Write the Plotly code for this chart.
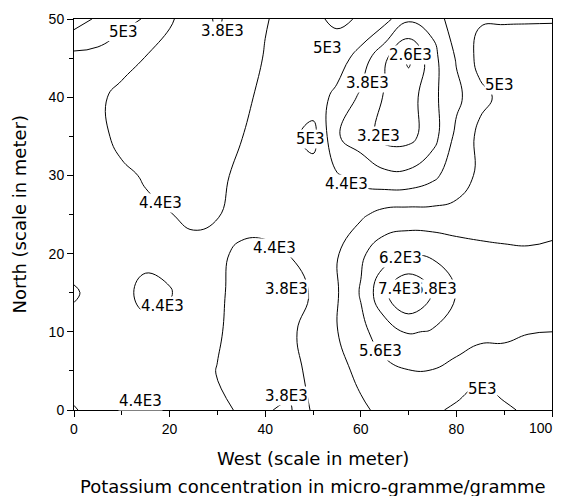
import plotly.graph_objects as go

# grid coordinates (metres)
west_m = [0, 5, 10, 15, 20, 25, 30, 35, 40, 45, 50, 55, 60, 65, 70, 75, 80, 85, 90, 95, 100]
north_m = [0, 5, 10, 15, 20, 25, 30, 35, 40, 45, 50]

# potassium concentration (x1000 micro-gramme/gramme), one row per north value
k_n00 = [4.38, 4.50, 4.45, 4.38, 4.45, 4.50, 4.50, 4.35, 3.85, 3.70, 4.50, 4.75, 4.90, 5.15, 5.25, 5.10, 4.90, 4.75, 4.90, 5.10, 5.15]
k_n05 = [4.55, 4.55, 4.50, 4.45, 4.50, 4.55, 4.38, 4.10, 3.95, 4.20, 4.55, 4.80, 5.15, 5.45, 5.58, 5.58, 5.40, 5.15, 5.35, 5.30, 5.30]
k_n10 = [4.55, 4.60, 4.60, 4.50, 4.50, 4.55, 4.47, 4.15, 4.00, 4.30, 4.60, 4.98, 5.45, 5.90, 6.25, 6.15, 5.95, 5.80, 5.70, 5.62, 5.60]
k_n15 = [4.35, 4.55, 4.50, 4.30, 4.38, 4.55, 4.50, 4.20, 4.00, 3.75, 4.55, 4.95, 5.65, 6.70, 7.45, 6.78, 6.18, 5.90, 5.75, 5.70, 5.70]
k_n20 = [4.60, 4.60, 4.55, 4.50, 4.50, 4.55, 4.50, 4.30, 4.20, 4.42, 4.60, 4.95, 5.50, 5.95, 6.10, 6.10, 5.95, 5.80, 5.70, 5.65, 5.65]
k_n25 = [4.70, 4.70, 4.60, 4.50, 4.42, 4.30, 4.38, 4.60, 4.75, 4.80, 4.85, 4.90, 4.90, 5.20, 5.25, 5.20, 5.15, 5.20, 5.30, 5.40, 5.50]
k_n30 = [4.70, 4.65, 4.50, 4.35, 4.15, 4.10, 4.25, 4.55, 4.70, 4.80, 4.75, 4.45, 4.20, 3.95, 3.95, 4.25, 4.75, 5.10, 5.30, 5.35, 5.45]
k_n35 = [4.70, 4.55, 4.25, 4.05, 3.95, 4.00, 4.15, 4.38, 4.65, 4.85, 5.20, 3.85, 3.50, 3.00, 3.00, 3.55, 4.55, 5.15, 5.30, 5.35, 5.40]
k_n40 = [4.65, 4.50, 4.25, 4.05, 3.95, 3.95, 4.00, 4.25, 4.55, 4.75, 4.70, 4.25, 3.70, 3.15, 2.90, 3.65, 4.25, 4.85, 5.15, 5.30, 5.40]
k_n45 = [4.80, 4.80, 4.60, 4.38, 4.10, 3.90, 3.85, 4.00, 4.45, 4.80, 4.90, 4.70, 4.15, 3.30, 2.50, 3.60, 4.45, 5.20, 5.30, 5.35, 5.40]
k_n50 = [5.90, 5.50, 5.20, 4.95, 4.50, 4.00, 3.75, 4.00, 4.35, 4.65, 4.90, 5.10, 4.95, 4.60, 3.90, 4.00, 4.80, 4.95, 4.95, 4.95, 4.95]

# axis ticks
x_tick_vals = [0, 20, 40, 60, 80, 100]
x_tick_text = ["0", "20", "40", "60", "80", "100"]
y_tick_vals = [0, 10, 20, 30, 40, 50]

# contour labels as printed on the map
label_text = ["5E3", "3.8E3", "5E3", "3.8E3", "2.6E3", "5E3", "5E3", "3.2E3", "4.4E3", "4.4E3",
              "4.4E3", "3.8E3", "4.4E3", "4.4E3", "3.8E3", "6.2E3", "6.8E3", "7.4E3", "5.6E3", "5E3"]
label_x = [10.3, 31.0, 53.1, 61.3, 70.3, 89.1, 49.5, 63.8, 57.1, 18.0,
           42.0, 44.4, 18.6, 14.0, 44.4, 68.2, 75.6, 68.1, 64.2, 85.4]
label_y = [48.3, 48.5, 46.3, 41.8, 45.4, 41.6, 34.6, 35.0, 28.9, 26.5,
           20.7, 15.5, 13.3, 1.2, 1.8, 19.4, 15.5, 15.5, 7.5, 2.7]

levels_start, levels_end, levels_step = 2600, 7400, 600

z = [[v * 1000 for v in row] for row in
     [k_n00, k_n05, k_n10, k_n15, k_n20, k_n25, k_n30, k_n35, k_n40, k_n45, k_n50]]

fig = go.Figure()
fig.add_trace(go.Contour(
    x=west_m, y=north_m, z=z,
    contours=dict(coloring="lines", start=levels_start, end=levels_end,
                  size=levels_step, showlabels=False),
    line=dict(color="black", width=1, smoothing=1.3),
    colorscale=[[0, "black"], [1, "black"]],
    showscale=False, hoverinfo="skip",
))

annotations = []
for t, lx, ly in zip(label_text, label_x, label_y):
    annotations.append(dict(x=lx, y=ly, xref="x", yref="y", text=t, showarrow=False,
                            font=dict(family="DejaVu Sans", size=15, color="black"),
                            bgcolor="white", borderpad=0))

# the last x tick label sits at the page edge; anchor it from its right side so it stays visible
annotations.append(dict(x=x_tick_vals[-1], y=-0.047, xref="x", yref="paper", text=x_tick_text[-1],
                        showarrow=False, xanchor="right", yanchor="middle", xshift=3,
                        font=dict(family="Liberation Sans", size=14, color="black")))

annotations += [
    dict(x=0.5, y=-0.125, xref="paper", yref="paper", text="West (scale in meter)",
         showarrow=False, font=dict(family="DejaVu Sans", size=18, color="black"),
         xanchor="center", yanchor="middle"),
    dict(x=0.5, y=-0.196, xref="paper", yref="paper",
         text="Potassium concentration in micro-gramme/gramme",
         showarrow=False, font=dict(family="DejaVu Sans", size=18, color="black"),
         xanchor="center", yanchor="middle"),
    dict(x=-0.113, y=0.5, xref="paper", yref="paper", text="North (scale in meter)",
         showarrow=False, textangle=-90, font=dict(family="DejaVu Sans", size=18, color="black"),
         xanchor="center", yanchor="middle"),
]

# the page body has an 8px margin; margins are chosen so the plot frame lands on the reference frame
fig.update_layout(
    width=563, height=496,
    margin=dict(l=66, r=19, t=11, b=94, autoexpand=False),
    paper_bgcolor="white", plot_bgcolor="white",
    showlegend=False,
    annotations=annotations,
    xaxis=dict(range=[0, 100], tickvals=x_tick_vals, ticktext=x_tick_text[:-1] + [""],
               ticks="outside", ticklen=6,
               tickcolor="black", showline=True, linecolor="black", linewidth=1, mirror=True,
               showgrid=False, zeroline=False, automargin=False, ticklabeloverflow="allow",
               minor=dict(dtick=10, ticks="outside", ticklen=4, tickcolor="black"),
               tickfont=dict(family="Liberation Sans", size=14, color="black")),
    yaxis=dict(range=[0, 50], tickvals=y_tick_vals, ticks="outside", ticklen=6,
               tickcolor="black", showline=True, linecolor="black", linewidth=1, mirror=True,
               showgrid=False, zeroline=False, automargin=False, ticklabeloverflow="allow",
               minor=dict(dtick=5, ticks="outside", ticklen=4, tickcolor="black"),
               tickfont=dict(family="Liberation Sans", size=14, color="black")),
)

fig.write_html("out.html")
